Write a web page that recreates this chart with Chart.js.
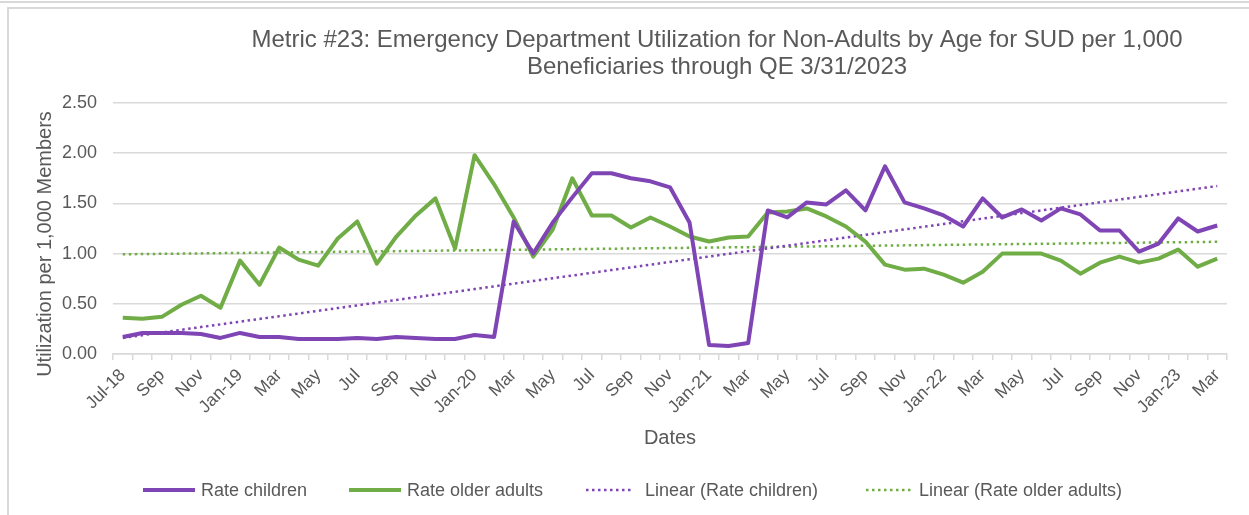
<!DOCTYPE html>
<html>
<head>
<meta charset="utf-8">
<script src="https://cdn.jsdelivr.net/npm/chart.js@4.4.1/dist/chart.umd.min.js"></script>
<style>
  html, body { margin: 0; padding: 0; background: #fff; }
  #wrap { position: relative; width: 1249px; height: 515px; overflow: hidden; }
  #topLine { position: absolute; left: 0; top: 1px; width: 1249px; height: 2px; background: #d9d9d9; }
  #frame { position: absolute; left: 7px; top: 7px; width: 1300px; height: 600px;
           border-left: 2px solid #d9d9d9; border-top: 2px solid #d9d9d9; }
  canvas { position: absolute; left: 0; top: 0; }
</style>
</head>
<body>
<div id="wrap">
  <div id="topLine"></div>
  <div id="frame"></div>
  <canvas id="chart" width="1249" height="515"></canvas>
</div>
<script>
// Данные
const months = [
  'Jul-18','Aug','Sep','Oct','Nov','Dec',
  'Jan-19','Feb','Mar','Apr','May','Jun','Jul','Aug','Sep','Oct','Nov','Dec',
  'Jan-20','Feb','Mar','Apr','May','Jun','Jul','Aug','Sep','Oct','Nov','Dec',
  'Jan-21','Feb','Mar','Apr','May','Jun','Jul','Aug','Sep','Oct','Nov','Dec',
  'Jan-22','Feb','Mar','Apr','May','Jun','Jul','Aug','Sep','Oct','Nov','Dec',
  'Jan-23','Feb','Mar'
];
const rateChildren = [
  0.17, 0.21, 0.21, 0.21, 0.20, 0.16,
  0.21, 0.17, 0.17, 0.15, 0.15, 0.15, 0.16, 0.15, 0.17, 0.16, 0.15, 0.15,
  0.19, 0.17, 1.32, 1.00, 1.31, 1.56, 1.80, 1.80, 1.75, 1.72, 1.66, 1.31,
  0.09, 0.08, 0.11, 1.43, 1.36, 1.51, 1.49, 1.63, 1.43, 1.87, 1.51, 1.45,
  1.38, 1.27, 1.55, 1.36, 1.44, 1.33, 1.45, 1.39, 1.23, 1.23, 1.02, 1.10,
  1.35, 1.22, 1.28
];
const rateOlderAdults = [
  0.36, 0.35, 0.37, 0.49, 0.58, 0.46,
  0.93, 0.69, 1.06, 0.94, 0.88, 1.15, 1.32, 0.90, 1.17, 1.38, 1.55, 1.05,
  1.98, 1.69, 1.36, 0.97, 1.24, 1.75, 1.38, 1.38, 1.26, 1.36, 1.27, 1.17,
  1.12, 1.16, 1.17, 1.41, 1.42, 1.45, 1.37, 1.27, 1.12, 0.89, 0.84, 0.85,
  0.79, 0.71, 0.82, 1.00, 1.00, 1.00, 0.93, 0.80, 0.91, 0.97, 0.91, 0.95,
  1.04, 0.87, 0.95
];
const yTicks = [0, 0.5, 1, 1.5, 2, 2.5];
const titleLines = [
  'Metric #23: Emergency Department Utilization for Non-Adults by Age for SUD per 1,000',
  'Beneficiaries through QE 3/31/2023'
];
const yTitle = 'Utilization per 1,000 Members';

const PURPLE = '#7f45b5';
const GREEN = '#70ad47';
const TEXT = '#595959';
const FONT = '"Liberation Sans", Arial, sans-serif';

// Линейный тренд (как в Excel — МНК по исходному ряду)
function linearTrend(values) {
  const n = values.length;
  let sx = 0, sy = 0, sxy = 0, sxx = 0;
  values.forEach((v, i) => { sx += i; sy += v; sxy += i * v; sxx += i * i; });
  const b = (n * sxy - sx * sy) / (n * sxx - sx * sx);
  const a = (sy - b * sx) / n;
  return values.map((_, i) => a + b * i);
}

// Заголовок, подпись оси Y и легенду рисуем сами, чтобы стояли как в оригинале
const titlePlugin = {
  id: 'customTitle',
  afterDraw(chart) {
    const ctx = chart.ctx;
    ctx.save();
    ctx.fillStyle = TEXT;
    ctx.font = '24px ' + FONT;
    ctx.textAlign = 'center';
    ctx.textBaseline = 'alphabetic';
    ctx.fillText(titleLines[0], 717, 47);
    ctx.fillText(titleLines[1], 717, 73.5);

    ctx.font = '20px ' + FONT;
    ctx.textBaseline = 'middle';
    ctx.translate(45, 244);
    ctx.rotate(-Math.PI / 2);
    ctx.fillText(yTitle, 0, 0);
    ctx.restore();
  }
};

const legendLineX = [143, 349, 586, 866];
const legendTextX = [201, 407, 645, 919];
const legendPlugin = {
  id: 'customLegend',
  afterDraw(chart) {
    const ctx = chart.ctx;
    const y = 490;
    ctx.save();
    chart.data.datasets.forEach((ds, i) => {
      const x = legendLineX[i];
      ctx.beginPath();
      ctx.strokeStyle = ds.borderColor;
      ctx.lineWidth = ds.borderWidth;
      ctx.setLineDash(ds.borderDash || []);
      ctx.moveTo(x, y);
      ctx.lineTo(x + (ds.borderDash ? 48 : 52), y);
      ctx.stroke();
      ctx.setLineDash([]);
      ctx.fillStyle = TEXT;
      ctx.font = '18px ' + FONT;
      ctx.textAlign = 'left';
      ctx.textBaseline = 'middle';
      ctx.fillText(ds.label, legendTextX[i], y + 1);
    });
    ctx.restore();
  }
};

new Chart(document.getElementById('chart'), {
  type: 'line',
  data: {
    labels: months,
    datasets: [
      { label: 'Rate children', data: rateChildren, borderColor: PURPLE, borderWidth: 4,
        pointRadius: 0, tension: 0, borderJoinStyle: 'round' },
      { label: 'Rate older adults', data: rateOlderAdults, borderColor: GREEN, borderWidth: 4,
        pointRadius: 0, tension: 0, borderJoinStyle: 'round' },
      { label: 'Linear (Rate children)', data: linearTrend(rateChildren), borderColor: PURPLE,
        borderWidth: 2.5, borderDash: [2.5, 3.5], pointRadius: 0 },
      { label: 'Linear (Rate older adults)', data: linearTrend(rateOlderAdults), borderColor: GREEN,
        borderWidth: 2.5, borderDash: [2.5, 3.5], pointRadius: 0 }
    ]
  },
  options: {
    responsive: false,
    animation: false,
    layout: { padding: { top: 103, right: 22, bottom: 61, left: 0 } },
    plugins: {
      legend: { display: false },
      title: { display: false },
      tooltip: { enabled: false }
    },
    scales: {
      x: {
        offset: true,
        afterFit: s => { s.height = 100; },
        border: { color: '#d9d9d9', width: 1.5 },
        grid: { display: true, drawOnChartArea: false, drawTicks: true, tickLength: 6,
                offset: true, color: '#d9d9d9', lineWidth: 1.5 },
        ticks: {
          autoSkip: false, minRotation: 45, maxRotation: 45, padding: 5,
          color: TEXT, font: { family: FONT, size: 17.5 },
          callback: (v, i) => (i % 2 === 0 ? months[i] : '')
        },
        title: { display: true, text: 'Dates', color: TEXT,
                 font: { family: FONT, size: 20 }, padding: { top: 0, bottom: 4 } }
      },
      y: {
        min: 0, max: 2.5,
        afterFit: s => { s.width = 113; },
        afterBuildTicks: s => { s.ticks = yTicks.map(v => ({ value: v })); },
        border: { display: false },
        grid: { color: '#d9d9d9', lineWidth: 1.5, drawTicks: false },
        ticks: {
          padding: 16, color: TEXT, font: { family: FONT, size: 18 },
          callback: v => v.toFixed(2)
        },
        title: { display: false }
      }
    }
  },
  plugins: [titlePlugin, legendPlugin]
});
</script>
</body>
</html>
